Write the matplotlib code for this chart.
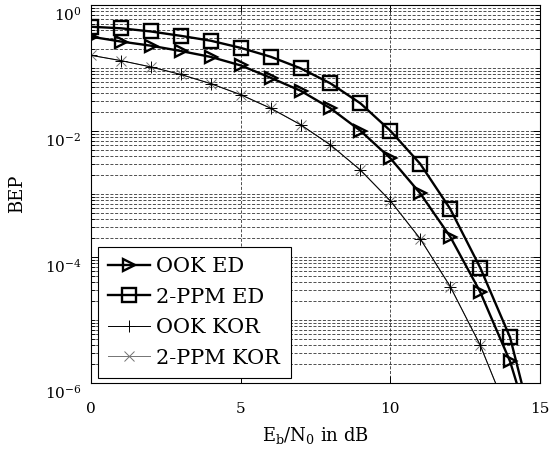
import matplotlib
matplotlib.use("Agg")
import matplotlib.pyplot as plt
from matplotlib.ticker import LogLocator, NullFormatter
from matplotlib.transforms import ScaledTranslation

plt.rcParams['font.family'] = ['DejaVu Serif']
plt.rcParams['mathtext.fontset'] = 'dejavuserif'
plt.rcParams['lines.scale_dashes'] = False

# Eb/N0 grid in dB and bit error probabilities per scheme
ebn0_db = [0, 1, 2, 3, 4, 5, 6, 7, 8, 9, 10, 11, 12, 13, 14, 15]
ook_ed = [0.314, 0.263, 0.226, 0.186, 0.150, 0.110, 0.070, 0.0436, 0.0229,
          0.0101, 3.7e-3, 1.02e-3, 2.1e-4, 2.8e-5, 2.2e-6, 6e-8]
ppm_ed = [0.452, 0.427, 0.380, 0.324, 0.271, 0.209, 0.151, 0.099, 0.057,
          0.0275, 0.0101, 3.0e-3, 5.8e-4, 6.8e-5, 5.3e-6, 7e-8]
ebn0_kor_db = [0, 1, 2, 3, 4, 5, 6, 7, 8, 9, 10, 11, 12, 13, 14]
ook_kor = [0.159, 0.131, 0.104, 0.0789, 0.0565, 0.0377, 0.0230, 0.0126,
           6.0e-3, 2.4e-3, 7.8e-4, 1.94e-4, 3.4e-5, 4.0e-6, 2.7e-7]
ppm_kor = [0.159, 0.131, 0.104, 0.0789, 0.0565, 0.0377, 0.0230, 0.0126,
           6.0e-3, 2.4e-3, 7.8e-4, 1.94e-4, 3.4e-5, 4.0e-6, 2.7e-7]
labels = ["OOK ED", "2-PPM ED", "OOK KOR", "2-PPM KOR"]
x_ticks = [0, 5, 10, 15]
y_ticks = [1e-6, 1e-4, 1e-2, 1e0]
y_ticklabels = [r"$10^{-6}$", r"$10^{-4}$", r"$10^{-2}$", r"$10^{0}$"]

fig = plt.figure(figsize=(5.53, 4.51), dpi=100)
ax = fig.add_axes([0.1646, 0.1508, 0.8119, 0.8381])

ax.set_yscale('log')
ax.set_xlim(0, 15)
ax.set_ylim(1e-6, 1e0)

grid_kw = dict(color='0.2', linewidth=0.6, linestyle=(0, (2.2, 1.2)))
ax.set_xticks(x_ticks)
ax.set_yticks(y_ticks)
ax.set_yticklabels(y_ticklabels)
ax.yaxis.set_minor_locator(LogLocator(base=10, subs=[1, 2, 3, 4, 5, 6, 7, 8, 9], numticks=20))
ax.yaxis.set_minor_formatter(NullFormatter())
ax.grid(True, which='major', axis='both', **grid_kw)
ax.grid(True, which='minor', axis='y', **grid_kw)
ax.set_axisbelow(True)

ax.tick_params(which='both', direction='in', top=True, right=True, labelsize=11)
ax.tick_params(which='major', length=5, width=0.7)
ax.tick_params(which='minor', length=3, width=0.6)
ax.tick_params(axis='x', pad=14)
ax.tick_params(axis='y', pad=7)
for s in ax.spines.values():
    s.set_linewidth(0.8)
    s.set_color('black')

# drop the exponent labels a little below their ticks
shift = ScaledTranslation(0, -8 / 100, fig.dpi_scale_trans)
for lbl in ax.get_yticklabels():
    lbl.set_transform(lbl.get_transform() + shift)

n_mark = slice(0, 15)
ax.plot(ebn0_kor_db, ppm_kor, color='0.45', linewidth=0.7, marker='x',
        markersize=7, markeredgewidth=0.7, label=labels[3], zorder=3)
ax.plot(ebn0_kor_db, ook_kor, color='black', linewidth=0.7, marker='+',
        markersize=9, markeredgewidth=0.7, label=labels[2], zorder=4)
ax.plot(ebn0_db, ppm_ed, color='black', linewidth=1.7, marker='s',
        markersize=10, markeredgewidth=1.7, markerfacecolor='none',
        markevery=n_mark, label=labels[1], zorder=5)
ax.plot(ebn0_db, ook_ed, color='black', linewidth=1.7, marker='>',
        markersize=9, markeredgewidth=1.7, markerfacecolor='none',
        markevery=n_mark, label=labels[0], zorder=6)

ax.set_xlabel(r"$\mathrm{E_b/N_0}$ in dB", fontsize=13, labelpad=6)
ax.set_ylabel("BEP", fontsize=13, labelpad=13)

handles, labs = ax.get_legend_handles_labels()
order = [labs.index(l) for l in labels]
leg = ax.legend([handles[i] for i in order], [labs[i] for i in order],
                loc='lower left', bbox_to_anchor=(0.0156, 0.0132),
                borderaxespad=0, fontsize=15, frameon=True, fancybox=False,
                framealpha=1, edgecolor='black', handlelength=2.0,
                handletextpad=0.3, labelspacing=0.55, borderpad=0.5)
leg.get_frame().set_linewidth(0.8)

fig.savefig("out.png", dpi=100)
